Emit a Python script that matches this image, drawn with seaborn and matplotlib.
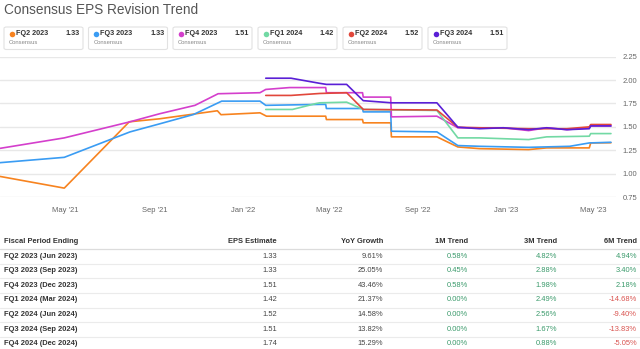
import matplotlib
matplotlib.use("Agg")
import matplotlib.pyplot as plt
import matplotlib.dates as mdates
from matplotlib.patches import FancyBboxPatch
import pandas as pd
import seaborn as sns

# ---------------- data ----------------
series_names = ["FQ2 2023", "FQ3 2023", "FQ4 2023", "FQ1 2024", "FQ2 2024", "FQ3 2024"]
legend_values = ["1.33", "1.33", "1.51", "1.42", "1.52", "1.51"]

fq2_2023_dates = ["2021-01-30", "2021-04-29", "2021-07-28", "2021-09-08", "2021-11-27", "2021-12-02",
                  "2022-01-25", "2022-02-03", "2022-04-26", "2022-04-27", "2022-06-16", "2022-06-17",
                  "2022-07-25", "2022-07-26", "2022-09-27", "2022-10-26", "2022-11-25", "2023-02-01",
                  "2023-02-26", "2023-04-26", "2023-04-28", "2023-05-26"]
fq2_2023_vals = [0.97, 0.845, 1.554, 1.586, 1.672, 1.63, 1.65, 1.614, 1.614, 1.578, 1.578, 1.543,
                 1.543, 1.393, 1.393, 1.285, 1.267, 1.257, 1.275, 1.275, 1.328, 1.33]

fq3_2023_dates = ["2021-01-30", "2021-04-29", "2021-07-29", "2021-09-08", "2021-10-25", "2021-12-03",
                  "2022-01-25", "2022-02-02", "2022-04-18", "2022-04-26", "2022-04-27", "2022-06-16",
                  "2022-06-17", "2022-07-25", "2022-07-26", "2022-09-27", "2022-10-26", "2022-11-25",
                  "2023-02-01", "2023-03-30", "2023-04-26", "2023-05-26"]
fq3_2023_vals = [1.117, 1.174, 1.446, 1.532, 1.632, 1.775, 1.775, 1.73, 1.74, 1.74, 1.696, 1.696,
                 1.66, 1.66, 1.453, 1.446, 1.30, 1.292, 1.281, 1.292, 1.328, 1.335]

fq4_2023_dates = ["2021-01-30", "2021-04-29", "2021-07-29", "2021-09-08", "2021-10-27", "2021-11-28",
                  "2022-01-25", "2022-02-02", "2022-03-07", "2022-04-26", "2022-04-27", "2022-06-16",
                  "2022-06-17", "2022-07-25", "2022-07-26", "2022-09-27", "2022-10-26", "2022-12-28",
                  "2023-02-01", "2023-02-26", "2023-03-26", "2023-04-26", "2023-04-28", "2023-05-26"]
fq4_2023_vals = [1.27, 1.382, 1.554, 1.64, 1.73, 1.854, 1.865, 1.90, 1.92, 1.92, 1.865, 1.865,
                 1.818, 1.818, 1.607, 1.614, 1.49, 1.49, 1.46, 1.49, 1.47, 1.49, 1.51, 1.51]

fq1_2024_dates = ["2022-02-02", "2022-03-11", "2022-04-13", "2022-04-18", "2022-05-25", "2022-06-17",
                  "2022-09-27", "2022-10-26", "2022-11-25", "2023-02-01", "2023-02-26", "2023-04-26",
                  "2023-04-28", "2023-05-26"]
fq1_2024_vals = [1.686, 1.686, 1.75, 1.757, 1.764, 1.686, 1.675, 1.382, 1.382, 1.364, 1.393, 1.40,
                 1.428, 1.428]

fq2_2024_dates = ["2022-02-02", "2022-03-09", "2022-04-18", "2022-05-25", "2022-06-17", "2022-09-27",
                  "2022-10-26", "2022-11-25", "2023-02-01", "2023-03-26", "2023-04-26", "2023-04-28",
                  "2023-05-26"]
fq2_2024_vals = [1.836, 1.836, 1.857, 1.865, 1.686, 1.68, 1.496, 1.49, 1.48, 1.48, 1.50, 1.525, 1.525]

fq3_2024_dates = ["2022-02-02", "2022-03-09", "2022-04-18", "2022-04-27", "2022-05-25", "2022-06-17",
                  "2022-07-26", "2022-09-27", "2022-10-26", "2022-11-25", "2022-12-28", "2023-02-01",
                  "2023-02-26", "2023-03-26", "2023-04-26", "2023-04-28", "2023-05-26"]
fq3_2024_vals = [2.02, 2.02, 1.965, 1.954, 1.954, 1.78, 1.757, 1.757, 1.496, 1.48, 1.49, 1.47,
                 1.49, 1.47, 1.48, 1.51, 1.51]

colors = ["#f7831f", "#3a9cf3", "#d43fcc", "#72d9a4", "#e1473b", "#5a1fd6"]

x_ticks = ["2021-05-01", "2021-09-01", "2022-01-01", "2022-05-01", "2022-09-01", "2023-01-01", "2023-05-01"]
y_ticks = [0.75, 1.00, 1.25, 1.50, 1.75, 2.00, 2.25]

table_header = ["Fiscal Period Ending", "EPS Estimate", "YoY Growth", "1M Trend", "3M Trend", "6M Trend"]
fiscal_period = ["FQ2 2023 (Jun 2023)", "FQ3 2023 (Sep 2023)", "FQ4 2023 (Dec 2023)", "FQ1 2024 (Mar 2024)",
                 "FQ2 2024 (Jun 2024)", "FQ3 2024 (Sep 2024)", "FQ4 2024 (Dec 2024)"]
eps_estimate = ["1.33", "1.33", "1.51", "1.42", "1.52", "1.51", "1.74"]
yoy_growth = ["9.61%", "25.05%", "43.46%", "21.37%", "14.58%", "13.82%", "15.29%"]
trend_1m = ["0.58%", "0.45%", "0.58%", "0.00%", "0.00%", "0.00%", "0.00%"]
trend_3m = ["4.82%", "2.88%", "1.98%", "2.49%", "2.56%", "1.67%", "0.88%"]
trend_6m = ["4.94%", "3.40%", "2.18%", "-14.68%", "-9.40%", "-13.83%", "-5.05%"]

# ---------------- build long frame ----------------
all_dates = [fq2_2023_dates, fq3_2023_dates, fq4_2023_dates, fq1_2024_dates, fq2_2024_dates, fq3_2024_dates]
all_vals = [fq2_2023_vals, fq3_2023_vals, fq4_2023_vals, fq1_2024_vals, fq2_2024_vals, fq3_2024_vals]
frames = []
for name, d, v in zip(series_names, all_dates, all_vals):
    frames.append(pd.DataFrame({"date": pd.to_datetime(d), "eps": v, "series": name}))
df = pd.concat(frames, ignore_index=True)

# ---------------- figure ----------------
sns.set_style("white")
plt.rcParams["font.family"] = ["Liberation Sans", "DejaVu Sans"]

W, H = 640, 349
fig = plt.figure(figsize=(W / 100, H / 100), dpi=100)


def fx(x):
    return x / W


def fy(y):
    return 1 - y / H


ax_top, ax_bot, ax_right = 56.7, 197.0, 616.0
ax = fig.add_axes([0, fy(ax_bot), fx(ax_right), (ax_bot - ax_top) / H])

palette = dict(zip(series_names, colors))
sns.lineplot(data=df, x="date", y="eps", hue="series", palette=palette, estimator=None,
             sort=True, linewidth=1.2, legend=False, ax=ax, zorder=3)

ax.set_xlim(pd.Timestamp("2021-01-30"), pd.Timestamp("2023-06-02"))
ax.set_ylim(0.75, 2.25)
ax.set_xlabel("")
ax.set_ylabel("")
for s in ax.spines.values():
    s.set_visible(False)
ax.set_yticks(y_ticks)
ax.set_yticklabels([f"{t:.2f}" for t in y_ticks])
ax.yaxis.tick_right()
ax.tick_params(axis="y", length=0, pad=5, labelsize=5.5, labelcolor="#666666")
ax.set_xticks(pd.to_datetime(x_ticks))
ax.xaxis.set_major_formatter(mdates.DateFormatter("%b '%y"))
ax.tick_params(axis="x", length=4, width=0.8, color="#e4e4e4", pad=3, labelsize=5.5, labelcolor="#666666")
ax.grid(axis="y", color="#e8e8e8", linewidth=1.0, zorder=0)
ax.set_axisbelow(True)

# ---------------- title ----------------
fig.text(fx(4), fy(9.5), "Consensus EPS Revision Trend", fontsize=9.8, color="#555555", va="center", ha="left")

# ---------------- legend boxes ----------------
box_lefts = [4, 88.5, 173, 258, 343, 428]
for left, name, val, col in zip(box_lefts, series_names, legend_values, colors):
    box = FancyBboxPatch((fx(left), fy(49.5)), fx(79), (49.5 - 27) / H,
                         boxstyle="round,pad=0,rounding_size=0.004",
                         transform=fig.transFigure, facecolor="white", edgecolor="#e2e2e2", linewidth=0.8)
    fig.add_artist(box)
    fig.add_artist(plt.Line2D([fx(left + 7.5)], [fy(33.5)], transform=fig.transFigure, marker="o",
                              markersize=4.0, markerfacecolor=col, markeredgecolor="none", linestyle="none"))
    fig.text(fx(left + 12), fy(33.5), name, fontsize=5.2, fontweight="bold", color="#333333",
             va="center", ha="left")
    fig.text(fx(left + 76), fy(33.5), val, fontsize=5.2, fontweight="bold", color="#333333",
             va="center", ha="right")
    fig.text(fx(left + 5), fy(42.8), "Consensus", fontsize=4.2, color="#888888", va="center", ha="left")

# ---------------- table ----------------
col_x = [4, 277, 383, 468, 557, 637]
col_ha = ["left", "right", "right", "right", "right", "right"]
header_y = 241.5
for x, txt, ha in zip(col_x, table_header, col_ha):
    fig.text(fx(x), fy(header_y), txt, fontsize=5.4, fontweight="bold", color="#333333", va="center", ha=ha)
fig.add_artist(plt.Line2D([0, 1], [fy(249), fy(249)], transform=fig.transFigure, color="#dcdcdc", lw=0.9))

row_y0, row_dy = 256.0, 14.65
green, red = "#3a9a6b", "#d9534f"
for i in range(len(fiscal_period)):
    y = row_y0 + i * row_dy
    fig.text(fx(col_x[0]), fy(y), fiscal_period[i], fontsize=5.4, fontweight="bold", color="#333333",
             va="center", ha="left")
    fig.text(fx(col_x[1]), fy(y), eps_estimate[i], fontsize=5.4, color="#444444", va="center", ha="right")
    fig.text(fx(col_x[2]), fy(y), yoy_growth[i], fontsize=5.4, color="#444444", va="center", ha="right")
    for j, arr in zip([3, 4, 5], [trend_1m, trend_3m, trend_6m]):
        c = red if arr[i].startswith("-") else green
        fig.text(fx(col_x[j]), fy(y), arr[i], fontsize=5.4, color=c, va="center", ha="right")
    if i < len(fiscal_period) - 1:
        ys = y + row_dy / 2 + 0.5
        fig.add_artist(plt.Line2D([0, 1], [fy(ys), fy(ys)], transform=fig.transFigure,
                                  color="#ebebeb", lw=0.8))

fig.savefig("out.png", dpi=100)
